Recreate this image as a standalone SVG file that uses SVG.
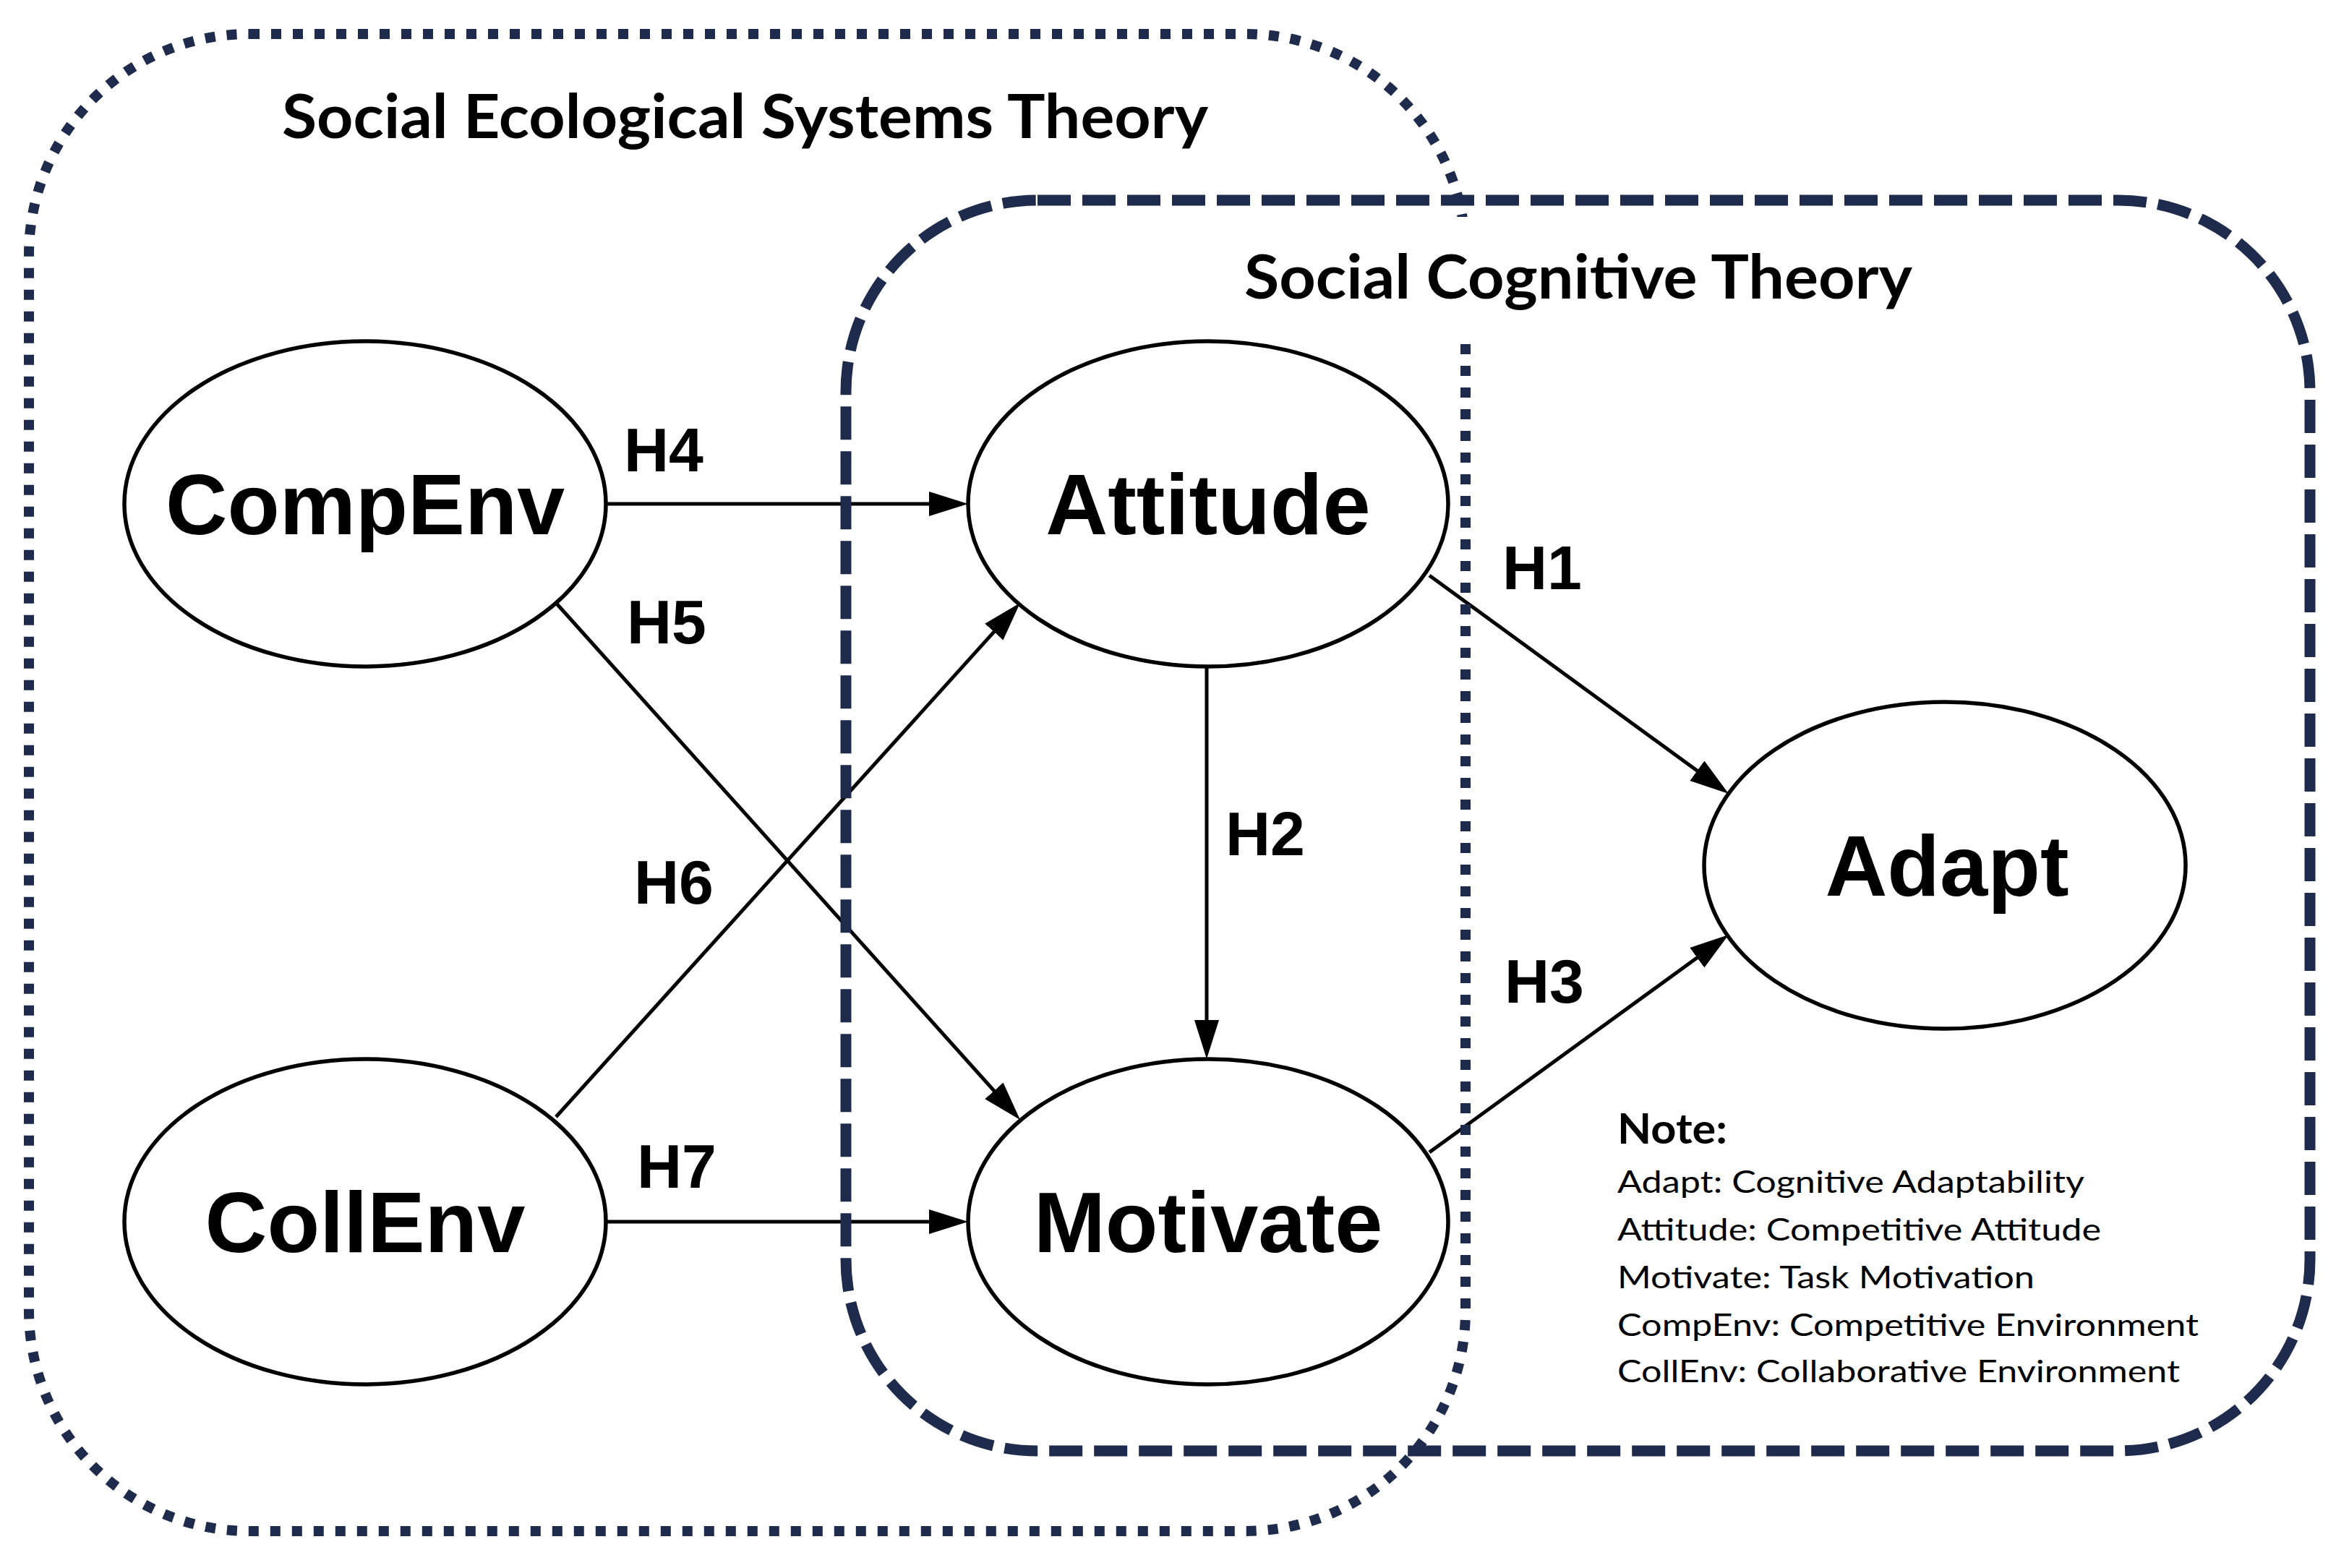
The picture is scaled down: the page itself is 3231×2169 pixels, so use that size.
<svg xmlns="http://www.w3.org/2000/svg" width="3231" height="2169" viewBox="0 0 3231 2169">
<style>
.bg{fill:#ffffff}
.dotted{fill:none;stroke:#1e2b4d;stroke-width:14;stroke-dasharray:14 16}
.dashed{fill:none;stroke:#1e2b4d;stroke-width:15;stroke-dasharray:46 16}
.node{fill:#ffffff;stroke:#000000;stroke-width:5.5}
.edge{fill:none;stroke:#000000;stroke-width:5;marker-end:url(#ah)}
.nlabel{font-family:"Liberation Sans",Arial,sans-serif;font-weight:bold;font-size:119px;fill:#000;text-anchor:middle}
.elabel{font-family:"Liberation Sans",Arial,sans-serif;font-weight:bold;font-size:86px;fill:#000}
.title{font-family:Lato,"Open Sans",sans-serif;font-weight:bold;font-size:84px;fill:#000}
.notehead{font-family:Lato,"Open Sans",sans-serif;font-weight:bold;font-size:58px;fill:#000}
.note{font-family:Lato,"Open Sans",sans-serif;font-size:43px;fill:#000}
</style>
<defs>
<marker id="ah" markerUnits="userSpaceOnUse" markerWidth="56" markerHeight="36" refX="44" refY="17" orient="auto" viewBox="0 0 56 36">
<path d="M0,0 L54,17 L0,34 z" fill="#000"/>
</marker>
</defs>
<rect class="bg" x="0" y="0" width="3231" height="2169"/>
<g id="connectors">
<line class="edge" x1="839" y1="697" x2="1329" y2="697"/>
<line class="edge" x1="839" y1="1690" x2="1329" y2="1690"/>
<line class="edge" x1="769" y1="834" x2="1404.3" y2="1541.6"/>
<line class="edge" x1="769" y1="1545" x2="1404.3" y2="841.4"/>
<line class="edge" x1="1669" y1="922" x2="1669" y2="1455"/>
<line class="edge" x1="1977" y1="796" x2="2382.9" y2="1092.1"/>
<line class="edge" x1="1977" y1="1594" x2="2382.9" y2="1298.9"/>
</g>
<g id="sct-boundary">
<rect class="dashed" x="1170" y="277" width="2025" height="1730" rx="265" ry="265"/>
</g>
<g id="sest-boundary">
<rect class="dotted" x="40" y="47" width="1987" height="2071" rx="305" ry="305"/>
</g>
<g id="titles">
<text class="title" x="390" y="191" textLength="1281" lengthAdjust="spacingAndGlyphs">Social Ecological Systems Theory</text>
<rect class="bg" x="2008" y="300" width="38" height="160"/>
<text class="title" x="1721" y="413" textLength="924" lengthAdjust="spacingAndGlyphs">Social Cognitive Theory</text>
</g>
<g id="node-compenv">
<ellipse class="node" cx="505" cy="697" rx="333" ry="225"/>
<text class="nlabel" x="505" y="739" textLength="552" lengthAdjust="spacingAndGlyphs">CompEnv</text>
</g>
<g id="node-attitude">
<ellipse class="node" cx="1671" cy="697" rx="332" ry="225"/>
<text class="nlabel" x="1671" y="739">Attitude</text>
</g>
<g id="node-collenv">
<ellipse class="node" cx="505" cy="1690" rx="333" ry="225"/>
<text class="nlabel" x="505" y="1732">CollEnv</text>
</g>
<g id="node-motivate">
<ellipse class="node" cx="1671" cy="1690" rx="332" ry="225"/>
<text class="nlabel" x="1671" y="1732">Motivate</text>
</g>
<g id="node-adapt">
<ellipse class="node" cx="2690" cy="1197" rx="333" ry="226"/>
<text class="nlabel" x="2693" y="1239">Adapt</text>
</g>
<g id="edge-labels">
<text class="elabel" x="863" y="652">H4</text>
<text class="elabel" x="867" y="890">H5</text>
<text class="elabel" x="877" y="1250">H6</text>
<text class="elabel" x="881" y="1643">H7</text>
<text class="elabel" x="1695" y="1183">H2</text>
<text class="elabel" x="2078" y="815">H1</text>
<text class="elabel" x="2081" y="1387">H3</text>
</g>
<g id="note">
<text class="notehead" x="2237" y="1582" textLength="152" lengthAdjust="spacingAndGlyphs">Note:</text>
<text class="note" x="2237" y="1650" textLength="646" lengthAdjust="spacingAndGlyphs">Adapt: Cognitive Adaptability</text>
<text class="note" x="2237" y="1716" textLength="669" lengthAdjust="spacingAndGlyphs">Attitude: Competitive Attitude</text>
<text class="note" x="2237" y="1782" textLength="577" lengthAdjust="spacingAndGlyphs">Motivate: Task Motivation</text>
<text class="note" x="2237" y="1848" textLength="804" lengthAdjust="spacingAndGlyphs">CompEnv: Competitive Environment</text>
<text class="note" x="2237" y="1912" textLength="778" lengthAdjust="spacingAndGlyphs">CollEnv: Collaborative Environment</text>
</g>
</svg>
